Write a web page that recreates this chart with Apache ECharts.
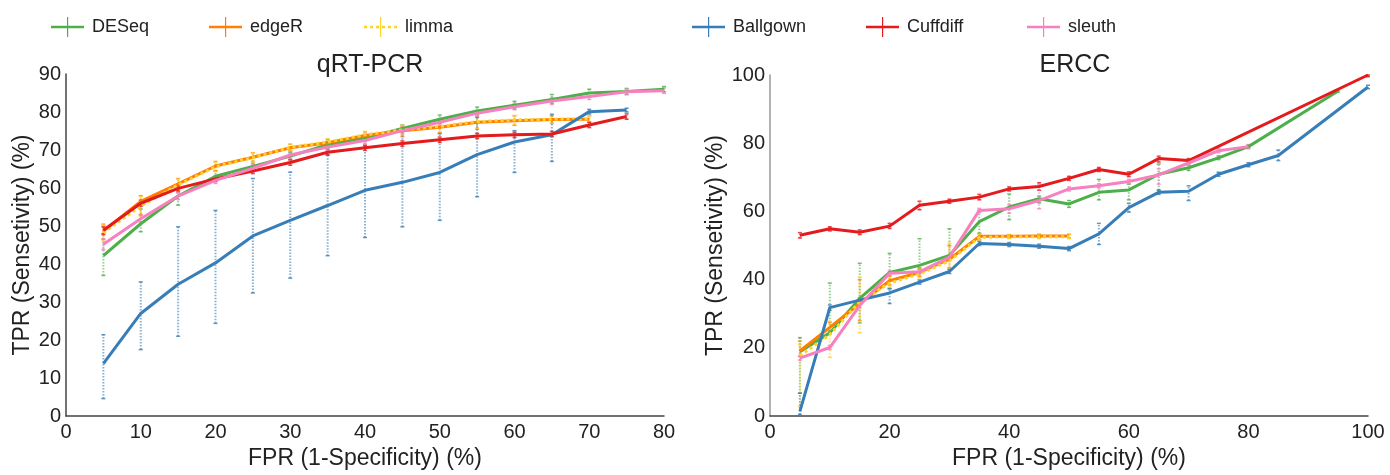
<!DOCTYPE html>
<html>
<head>
<meta charset="utf-8">
<script src="https://cdn.jsdelivr.net/npm/echarts@6/dist/echarts.min.js"></script>
<style>
html,body{margin:0;padding:0;background:#fff;}
#chart{width:1390px;height:475px;}
</style>
</head>
<body>
<div id="chart"></div>
<script>
// ---------- DATA ----------
const seriesNames = ['DESeq','edgeR','limma','Ballgown','Cuffdiff','sleuth'];
const titles = ['qRT-PCR','ERCC'];
const xAxisName = 'FPR (1-Specificity) (%)';
const yAxisName = 'TPR (Sensetivity) (%)';

// qRT-PCR panel
const qX = [5,10,15,20,25,30,35,40,45,50,55,60,65,70,75,80];
const qDESeq    = [42.2,50.6,57.9,63.1,65.7,68.4,71.4,73.2,75.7,78.1,80.3,81.8,83.3,85.0,85.4,86.0];
const qEdgeR    = [48.7,56.5,61.1,65.8,68.1,70.6,71.9,73.8,75.1,76.0,77.3,77.7,78.0,78.1,null,null];
const qLimma    = [48.2,55.3,60.8,65.6,68.0,70.7,72.1,74.0,75.3,76.2,77.5,77.9,78.1,78.2,null,null];
const qBallgown = [13.8,27.0,34.7,40.3,47.4,51.5,55.4,59.4,61.5,64.1,68.8,72.1,74.0,80.1,80.5,null];
const qCuffdiff = [48.9,56.0,59.9,62.4,64.5,66.7,69.4,70.6,71.7,72.7,73.7,74.0,74.2,76.6,78.8,null];
const qSleuth   = [45.2,51.9,57.9,62.0,65.2,68.7,70.8,72.5,75.1,77.3,79.7,81.4,82.9,84.1,85.3,85.6];

const qDESeqLo    = [37.0,48.5,55.5,62.0,64.8,67.5,70.5,72.3,74.8,77.0,79.3,80.8,82.3,84.0,84.6,85.3];
const qDESeqHi    = [48.0,54.5,58.8,64.5,66.6,69.3,72.3,74.1,76.6,79.2,81.3,82.8,84.6,86.0,86.2,86.7];
const qEdgeRLo    = [46.5,53.0,59.5,64.5,67.0,69.8,71.0,73.0,73.5,74.5,75.5,76.5,77.0,77.3,null,null];
const qEdgeRHi    = [50.5,58.0,62.5,67.0,69.3,71.5,72.8,74.8,76.3,77.5,79.0,79.0,79.0,79.0,null,null];
const qLimmaLo    = [46.0,52.5,59.2,64.3,66.8,69.9,71.2,73.2,73.8,74.8,75.8,76.7,77.1,77.4,null,null];
const qLimmaHi    = [50.2,57.8,62.3,66.8,69.2,71.6,73.0,74.9,76.5,77.6,79.1,79.1,79.1,79.1,null,null];
const qBallgownLo = [4.6,17.5,21.0,24.4,32.4,36.3,42.2,47.0,49.8,51.5,57.7,64.1,67.0,79.5,80.0,null];
const qBallgownHi = [21.4,35.3,49.8,54.1,62.5,64.2,68.7,71.1,75.1,74.3,78.6,75.1,79.4,80.7,81.0,null];
const qCuffdiffLo = [47.8,55.2,59.2,61.7,63.8,66.0,68.7,69.9,71.0,72.0,73.0,73.3,73.5,75.9,78.1,null];
const qCuffdiffHi = [49.8,56.8,60.6,63.1,65.2,67.4,70.1,71.3,72.4,73.4,74.4,74.7,74.9,77.3,79.5,null];
const qSleuthLo   = [43.8,50.9,57.0,61.2,64.3,67.8,70.0,71.7,74.2,76.5,78.9,80.6,82.0,83.3,84.6,84.9];
const qSleuthHi   = [46.6,52.9,58.8,62.8,66.1,69.6,71.6,73.3,76.0,78.1,80.5,82.2,83.8,84.9,86.0,86.3];

// ERCC panel
const eX = [5,10,15,20,25,30,35,40,45,50,55,60,65,70,75,80,85,90,95,100];
const eDESeq    = [18.9,24.4,34.5,42.1,44.2,47.1,57.0,61.3,63.7,62.2,65.6,66.3,70.9,72.8,75.7,79.0,null,null,95.3,null];
const eEdgeR    = [19.1,26.0,33.0,39.7,42.1,46.0,52.7,52.7,52.8,52.8,null,null,null,null,null,null,null,null,null,null];
const eLimma    = [17.7,23.9,33.5,39.0,41.7,45.5,52.4,52.6,52.6,52.6,null,null,null,null,null,null,null,null,null,null];
const eBallgown = [1.4,31.8,34.0,36.1,39.3,42.4,50.6,50.3,49.8,49.1,53.4,61.1,65.6,65.9,70.9,73.7,76.4,null,null,96.5];
const eCuffdiff = [53.0,54.9,53.9,55.7,61.8,63.0,64.2,66.6,67.3,69.7,72.3,70.9,75.5,74.9,null,null,null,null,null,100];
const eSleuth   = [17.0,20.1,32.4,41.9,42.3,46.6,60.3,60.8,63.2,66.6,67.5,68.8,70.7,74.2,77.8,79.0,null,null,null,null];

const eDESeqLo    = [6.7,24.9,27.3,37.4,43.1,45.8,53.6,57.6,62.5,61.2,63.4,63.4,66.3,72.0,75.2,78.5,null,null,95.0,null];
const eDESeqHi    = [23.0,39.0,44.8,47.7,52.0,54.9,60.3,65.1,64.5,63.2,69.4,68.0,73.9,73.6,76.3,79.5,null,null,95.6,null];
const eEdgeRLo    = [17.5,24.0,28.0,38.5,41.0,43.5,51.8,52.2,52.2,52.2];
const eEdgeRHi    = [22.0,27.5,40.0,41.0,43.5,50.0,53.5,53.2,53.3,53.3];
const eLimmaLo    = [2.9,17.2,24.4,37.8,40.5,43.1,51.5,52.0,52.0,52.0];
const eLimmaHi    = [21.0,27.8,40.7,40.2,43.0,50.7,53.3,53.2,53.2,53.2];
const eBallgownLo = [0.5,31.0,33.3,33.0,38.7,41.8,50.0,49.7,49.2,48.5,50.3,59.8,65.0,63.2,70.3,73.1,74.9,null,null,96.0];
const eBallgownHi = [6.7,32.6,34.7,37.3,39.9,43.0,51.2,50.9,50.4,49.7,56.5,62.4,66.2,67.5,71.5,74.3,78.0,null,null,97.0];
const eCuffdiffLo = [52.2,54.3,53.2,55.0,60.5,62.4,63.4,66.0,66.2,69.1,71.7,70.2,74.5,74.3,null,null,null,null,null,99.5];
const eCuffdiffHi = [53.8,55.5,54.6,56.5,63.0,63.6,65.0,67.2,68.4,70.3,72.9,71.6,76.2,75.5,null,null,null,null,null,100];
const eSleuthLo   = [16.4,19.5,31.8,41.3,41.7,46.0,59.7,59.5,60.8,66.0,66.9,68.2,68.0,73.6,77.2,78.4];
const eSleuthHi   = [17.6,20.7,33.0,42.5,42.9,47.2,60.9,62.0,68.0,67.2,68.1,69.4,72.5,74.8,78.4,79.6];

// ---------- BUILD ----------
const colors = {DESeq:'#4daf4a', edgeR:'#ff7f00', limma:'#ffd42a', Ballgown:'#377eb8', Cuffdiff:'#e41a1c', sleuth:'#f781bf'};
const FONT = '"Liberation Sans", Arial, sans-serif';

const panels = [
  {x:qX, vals:[qDESeq,qEdgeR,qLimma,qBallgown,qCuffdiff,qSleuth],
   lo:[qDESeqLo,qEdgeRLo,qLimmaLo,qBallgownLo,qCuffdiffLo,qSleuthLo],
   hi:[qDESeqHi,qEdgeRHi,qLimmaHi,qBallgownHi,qCuffdiffHi,qSleuthHi]},
  {x:eX, vals:[eDESeq,eEdgeR,eLimma,eBallgown,eCuffdiff,eSleuth],
   lo:[eDESeqLo,eEdgeRLo,eLimmaLo,eBallgownLo,eCuffdiffLo,eSleuthLo],
   hi:[eDESeqHi,eEdgeRHi,eLimmaHi,eBallgownHi,eCuffdiffHi,eSleuthHi]}
];

function makeErr(color){
  return function(params, api){
    const x = api.value(0), lo = api.value(1), hi = api.value(2);
    const a = api.coord([x, lo]), b = api.coord([x, hi]);
    return {type:'group', children:[
      {type:'line', shape:{x1:a[0],y1:a[1],x2:b[0],y2:b[1]}, style:{stroke:color, lineWidth:2, lineDash:[1.5,1.5], opacity:0.6}},
      {type:'line', shape:{x1:a[0]-2,y1:a[1],x2:a[0]+2,y2:a[1]}, style:{stroke:color, lineWidth:1.5, opacity:0.8}},
      {type:'line', shape:{x1:b[0]-2,y1:b[1],x2:b[0]+2,y2:b[1]}, style:{stroke:color, lineWidth:1.5, opacity:0.8}}
    ]};
  };
}

const series = [];
panels.forEach((p, pi) => {
  seriesNames.forEach((name, si) => {
    const data = p.x.map((xv, i) => [xv, p.vals[si][i]]).filter(d => d[1] != null);
    series.push({type:'line', name:name, xAxisIndex:pi, yAxisIndex:pi, data:data,
      showSymbol:false, symbol:'none', connectNulls:true, z:3+si,
      color:colors[name], itemStyle:{color:colors[name]},
      lineStyle:{color:colors[name], width:3, type: name==='limma' ? [3,3] : 'solid'},
      emphasis:{disabled:true}});
  });
  seriesNames.forEach((name, si) => {
    const data = [];
    p.x.forEach((xv, i) => {
      const l = p.lo[si][i], h = p.hi[si][i];
      if (l != null && h != null) data.push([xv, l, h]);
    });
    series.push({type:'custom', name:name, xAxisIndex:pi, yAxisIndex:pi, data:data,
      color:colors[name], itemStyle:{color:colors[name]},
      encode:{x:0, y:[1,2]}, renderItem:makeErr(colors[name]), silent:true, z:1});
  });
});

const iconSolid = 'path://M0,8.8 L33,8.8 L33,11.2 L0,11.2 Z M16,0 L17.2,0 L17.2,20 L16,20 Z';
const iconDot = 'path://M0,8.8 L3,8.8 L3,11.2 L0,11.2 Z M6,8.8 L9,8.8 L9,11.2 L6,11.2 Z M12,8.8 L15,8.8 L15,11.2 L12,11.2 Z M18,8.8 L21,8.8 L21,11.2 L18,11.2 Z M24,8.8 L27,8.8 L27,11.2 L24,11.2 Z M30,8.8 L33,8.8 L33,11.2 L30,11.2 Z M16,0 L17.2,0 L17.2,20 L16,20 Z';
const legendLeft = [46,204,359,687,861,1022];
const legends = seriesNames.map((n, i) => ({
  data:[{name:n, icon: n==='limma' ? iconDot : iconSolid, itemStyle:{color:colors[n]}}], left:legendLeft[i], top:12,
  itemWidth:33, itemHeight:20, selectedMode:false,
  textStyle:{fontFamily:FONT, fontSize:18, color:'#222', padding:[0,0,0,3]}
}));

const grids = [
  {left:66, right:726, top:74, bottom:52},
  {left:770, right:22, top:75, bottom:52}
];
const axisLineL = {show:true, lineStyle:{color:'#444', width:1.5}};
const axisLineR = {show:true, lineStyle:{color:'#999', width:1.5}};
const tickLabel = {fontFamily:FONT, fontSize:20, color:'#222'};
const nameStyle = {fontFamily:FONT, fontSize:23, color:'#222'};

const option = {
  backgroundColor:'#fff',
  animation:false,
  title:[
    {text:titles[0], left:365, top:48, textAlign:'center', textStyle:{fontFamily:FONT, fontSize:25, fontWeight:'normal', color:'#222'}},
    {text:titles[1], left:1070, top:48, textAlign:'center', textStyle:{fontFamily:FONT, fontSize:25, fontWeight:'normal', color:'#222'}}
  ],
  legend:legends,
  grid:grids,
  xAxis:[
    {type:'value', gridIndex:0, min:0, max:80, interval:10, axisLine:axisLineL, axisTick:{show:false}, splitLine:{show:false},
     axisLabel:Object.assign({margin:6}, tickLabel), name:xAxisName, nameLocation:'middle', nameGap:29, nameTextStyle:nameStyle},
    {type:'value', gridIndex:1, min:0, max:100, interval:20, axisLine:axisLineL, axisTick:{show:false}, splitLine:{show:false},
     axisLabel:Object.assign({margin:6}, tickLabel), name:xAxisName, nameLocation:'middle', nameGap:29, nameTextStyle:nameStyle}
  ],
  yAxis:[
    {type:'value', gridIndex:0, min:0, max:90, interval:10, axisLine:axisLineL, axisTick:{show:false}, splitLine:{show:false},
     axisLabel:Object.assign({margin:5}, tickLabel), name:yAxisName, nameLocation:'middle', nameGap:32, nameTextStyle:nameStyle},
    {type:'value', gridIndex:1, min:0, max:100, interval:20, axisLine:axisLineR, axisTick:{show:false}, splitLine:{show:false},
     axisLabel:Object.assign({margin:5}, tickLabel), name:yAxisName, nameLocation:'middle', nameGap:43, nameTextStyle:nameStyle}
  ],
  series:series
};

const chart = echarts.init(document.getElementById('chart'), null, {renderer:'canvas'});
chart.setOption(option);
</script>
</body>
</html>
